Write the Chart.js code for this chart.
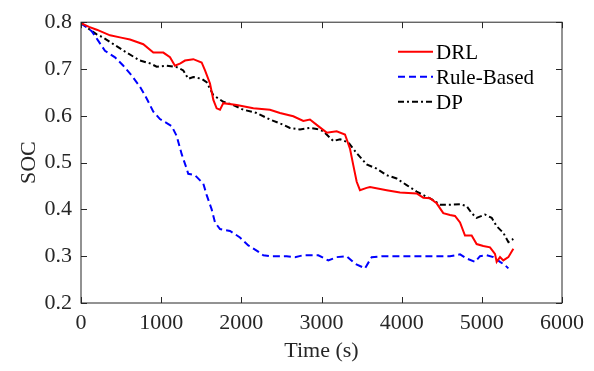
<!DOCTYPE html>
<html lang="en">
<head>
    <meta charset="UTF-8">
    <title>SOC vs Time</title>
    <script src="https://cdn.jsdelivr.net/npm/chart.js"></script>
    <style>
        body {
            margin: 0;
            padding: 0;
            background: #ffffff;
        }
        #wrap {
            width: 594px;
            height: 371px;
        }
    </style>
</head>
<body>
    <div id="wrap"><canvas id="socChart" width="594" height="371"></canvas></div>

    <script>
        // values
        const drlTime = [0, 100, 196, 362, 500, 611, 777, 902, 1027, 1110, 1172, 1240, 1297, 1401, 1505, 1547, 1609, 1651, 1692, 1734, 1775, 1942, 2150, 2357, 2482, 2648, 2773, 2856, 2960, 3065, 3189, 3293, 3355, 3397, 3439, 3480, 3563, 3605, 3813, 3979, 4187, 4270, 4353, 4436, 4519, 4603, 4665, 4728, 4790, 4873, 4935, 5018, 5102, 5164, 5185, 5227, 5268, 5331, 5393];
        const drlSoc = [0.798, 0.790, 0.784, 0.772, 0.767, 0.763, 0.753, 0.735, 0.735, 0.725, 0.707, 0.712, 0.718, 0.721, 0.714, 0.697, 0.669, 0.634, 0.616, 0.613, 0.627, 0.623, 0.616, 0.613, 0.606, 0.599, 0.589, 0.592, 0.578, 0.564, 0.567, 0.560, 0.530, 0.494, 0.459, 0.441, 0.446, 0.448, 0.441, 0.436, 0.434, 0.425, 0.424, 0.413, 0.392, 0.388, 0.386, 0.372, 0.344, 0.344, 0.326, 0.322, 0.319, 0.305, 0.288, 0.298, 0.291, 0.298, 0.316];

        const ruleTime = [0, 133, 216, 299, 424, 528, 632, 736, 819, 902, 985, 1131, 1193, 1256, 1318, 1338, 1422, 1526, 1567, 1630, 1672, 1734, 1859, 1983, 2087, 2191, 2274, 2357, 2565, 2669, 2773, 2960, 3085, 3189, 3314, 3418, 3542, 3626, 3771, 4187, 4603, 4728, 4811, 4915, 4977, 5060, 5143, 5227, 5289, 5331];
        const ruleSoc = [0.798, 0.781, 0.760, 0.739, 0.725, 0.707, 0.686, 0.662, 0.637, 0.609, 0.593, 0.578, 0.557, 0.518, 0.487, 0.476, 0.473, 0.455, 0.431, 0.400, 0.372, 0.358, 0.354, 0.340, 0.323, 0.312, 0.302, 0.300, 0.300, 0.298, 0.302, 0.302, 0.291, 0.298, 0.300, 0.284, 0.274, 0.298, 0.300, 0.300, 0.300, 0.304, 0.295, 0.288, 0.300, 0.302, 0.298, 0.288, 0.281, 0.274];

        const dpTime = [0, 112, 196, 279, 404, 570, 736, 861, 944, 1069, 1193, 1276, 1338, 1401, 1505, 1567, 1609, 1651, 1775, 1900, 2025, 2191, 2357, 2523, 2606, 2731, 2856, 2940, 3023, 3148, 3231, 3335, 3439, 3563, 3688, 3813, 3938, 4062, 4187, 4312, 4395, 4478, 4603, 4728, 4811, 4873, 4935, 5039, 5123, 5185, 5268, 5331, 5393];
        const dpSoc = [0.798, 0.784, 0.774, 0.767, 0.753, 0.735, 0.718, 0.712, 0.705, 0.707, 0.704, 0.697, 0.679, 0.683, 0.679, 0.672, 0.658, 0.644, 0.630, 0.623, 0.613, 0.606, 0.592, 0.581, 0.574, 0.571, 0.574, 0.572, 0.567, 0.546, 0.550, 0.543, 0.520, 0.496, 0.487, 0.473, 0.466, 0.452, 0.438, 0.427, 0.420, 0.410, 0.410, 0.411, 0.407, 0.392, 0.382, 0.389, 0.382, 0.364, 0.350, 0.330, 0.337];

        const xTicks = [0, 1000, 2000, 3000, 4000, 5000, 6000];
        const yTicks = [0.2, 0.3, 0.4, 0.5, 0.6, 0.7, 0.8];

        const axisColor = '#262626';
        const serif = "'Liberation Serif', 'Times New Roman', serif";

        function toPoints(xs, ys) {
            return xs.map((x, i) => ({ x: x, y: ys[i] }));
        }

        // box around the plot with inward tick marks, like the original figure
        const framePlugin = {
            id: 'frame',
            afterDatasetsDraw(chart) {
                const ctx = chart.ctx;
                const a = chart.chartArea;
                const xs = chart.scales.x, ys = chart.scales.y;
                const len = 6;
                ctx.save();
                ctx.strokeStyle = axisColor;
                ctx.lineWidth = 1;
                ctx.setLineDash([]);
                ctx.strokeRect(a.left, a.top, a.right - a.left, a.bottom - a.top);
                ctx.beginPath();
                xTicks.forEach(v => {
                    const px = Math.round(xs.getPixelForValue(v)) + 0.5;
                    ctx.moveTo(px, a.bottom); ctx.lineTo(px, a.bottom - len);
                    ctx.moveTo(px, a.top); ctx.lineTo(px, a.top + len);
                });
                yTicks.forEach(v => {
                    const py = Math.round(ys.getPixelForValue(v)) + 0.5;
                    ctx.moveTo(a.left, py); ctx.lineTo(a.left + len, py);
                    ctx.moveTo(a.right, py); ctx.lineTo(a.right - len, py);
                });
                ctx.stroke();
                ctx.restore();
            }
        };

        // legend inside the plot, top right, without a box
        const legendPlugin = {
            id: 'innerLegend',
            afterDraw(chart) {
                const ctx = chart.ctx;
                const a = chart.chartArea;
                const x0 = a.right - 164;
                const y0 = a.top + 29.5;
                const rowH = 25;
                ctx.save();
                ctx.font = '21px ' + serif;
                ctx.textBaseline = 'middle';
                chart.data.datasets.forEach((ds, i) => {
                    const y = y0 + i * rowH;
                    ctx.strokeStyle = ds.borderColor;
                    ctx.lineWidth = ds.borderWidth;
                    ctx.setLineDash(ds.borderDash || []);
                    ctx.beginPath();
                    ctx.moveTo(x0, y);
                    ctx.lineTo(x0 + 35, y);
                    ctx.stroke();
                    ctx.fillStyle = '#000';
                    ctx.fillText(ds.label, x0 + 38, y + 1.5);
                });
                ctx.restore();
            }
        };

        new Chart(document.getElementById('socChart').getContext('2d'), {
            type: 'line',
            data: {
                datasets: [
                    {
                        label: 'DRL',
                        data: toPoints(drlTime, drlSoc),
                        borderColor: '#ff0000',
                        borderWidth: 2,
                        fill: false,
                        tension: 0
                    },
                    {
                        label: 'Rule-Based',
                        data: toPoints(ruleTime, ruleSoc),
                        borderColor: '#0000ff',
                        borderWidth: 2,
                        borderDash: [7, 4],
                        fill: false,
                        tension: 0
                    },
                    {
                        label: 'DP',
                        data: toPoints(dpTime, dpSoc),
                        borderColor: '#000000',
                        borderWidth: 2,
                        borderDash: [6, 3, 2, 3],
                        fill: false,
                        tension: 0
                    }
                ]
            },
            options: {
                responsive: false,
                animation: false,
                layout: { padding: { top: 17, right: 32, left: 0, bottom: 0 } },
                elements: { point: { radius: 0 } },
                plugins: {
                    legend: { display: false },
                    tooltip: { enabled: false }
                },
                scales: {
                    x: {
                        type: 'linear',
                        min: 0,
                        max: 6000,
                        afterBuildTicks: s => { s.ticks = xTicks.map(v => ({ value: v })); },
                        afterFit: s => { s.height = 68; },
                        grid: { drawOnChartArea: false, drawTicks: false },
                        border: { display: false },
                        ticks: {
                            padding: 7,
                            color: axisColor,
                            maxRotation: 0,
                            font: { family: serif, size: 22 },
                            callback: v => String(v)
                        },
                        title: {
                            display: true,
                            text: 'Time (s)',
                            color: axisColor,
                            font: { family: serif, size: 22 },
                            padding: { top: 0, bottom: 7 }
                        }
                    },
                    y: {
                        min: 0.2,
                        max: 0.8,
                        afterBuildTicks: s => { s.ticks = yTicks.map(v => ({ value: v })); },
                        afterFit: s => { s.width = 81; },
                        grid: { drawOnChartArea: false, drawTicks: false },
                        border: { display: false },
                        ticks: {
                            padding: 9,
                            color: axisColor,
                            font: { family: serif, size: 22 },
                            callback: v => v.toFixed(1)
                        },
                        title: {
                            display: true,
                            text: 'SOC',
                            color: axisColor,
                            font: { family: serif, size: 22 },
                            padding: { top: 16, bottom: 0 }
                        }
                    }
                }
            },
            plugins: [framePlugin, legendPlugin]
        });
    </script>
</body>
</html>
